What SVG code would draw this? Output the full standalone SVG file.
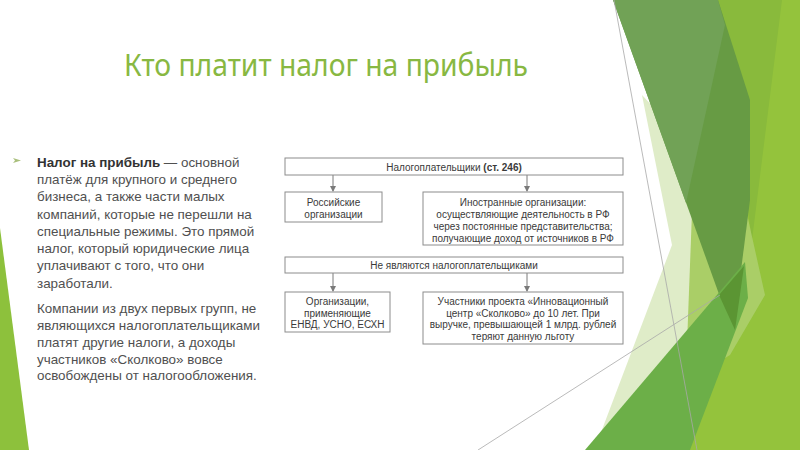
<svg xmlns="http://www.w3.org/2000/svg" width="800" height="450" viewBox="0 0 800 450">
<defs>
<style>
.body{font-family:"Liberation Sans",Arial,sans-serif;font-size:13.4px;fill:#505050}
.box{fill:#fff;stroke:#8c8c8c;stroke-width:1}
.bt{font-family:"Liberation Sans",Arial,sans-serif;font-size:10px;fill:#3a3a3a;text-anchor:middle}
.conn{stroke:#7a7a7a;stroke-width:1;fill:none;marker-end:url(#ah)}
.gl{stroke:#a8a8a8;stroke-width:0.8;fill:none}
</style>
<marker id="ah" markerWidth="6" markerHeight="6" refX="5" refY="3" orient="auto" markerUnits="userSpaceOnUse"><path d="M0,0 L6,3 L0,6 Z" fill="#7a7a7a"/></marker>
</defs>
<rect width="800" height="450" fill="#fff"/>
<g id="decoration">
<polygon points="0,228 0,450 29,450" fill="#8dc13c"/>
<polygon points="700,0 800,0 800,450 683,450" fill="#94c33c"/>
<polygon points="718,0 782,0 752,240" fill="#89ba3c"/>
<polygon points="642,95 745,205 765,295 730,355 600,435 672,245" fill="#bfd991" fill-opacity="0.5"/>
<polygon points="613,0 718,0 750,100 750,200 733,333" fill="#679b44"/>
<polygon points="613,0 718,0 725,25 686,203" fill="#71a256"/>
<polygon points="585,450 745,262 748,298 690,450" fill="#6caf48"/>
<polygon points="719,295 744,266 735,330" fill="#5b9533"/>
<line class="gl" x1="614" y1="0" x2="697" y2="450"/>
<line class="gl" x1="478" y1="450" x2="720" y2="295"/>
</g>
<g id="title">
<text x="124" y="76" font-family="'Noto Sans','DejaVu Sans',sans-serif" font-size="30" fill="#88b842" textLength="404" lengthAdjust="spacingAndGlyphs">Кто платит налог на прибыль</text>
</g>
<g id="body-text">
<polygon points="13,158 21,160.5 13,163 15,160.5" fill="#a9bf7c"/>
<text class="body" x="37" y="167"><tspan font-weight="bold" fill="#333">Налог на прибыль</tspan> — основной</text>
<text class="body" x="37" y="184">платёж для крупного и среднего</text>
<text class="body" x="37" y="201">бизнеса, а также части малых</text>
<text class="body" x="37" y="219">компаний, которые не перешли на</text>
<text class="body" x="37" y="236">специальные режимы. Это прямой</text>
<text class="body" x="37" y="253">налог, который юридические лица</text>
<text class="body" x="37" y="270">уплачивают с того, что они</text>
<text class="body" x="37" y="288">заработали.</text>
<text class="body" x="37" y="313">Компании из двух первых групп, не</text>
<text class="body" x="37" y="330">являющихся налогоплательщиками</text>
<text class="body" x="37" y="347">платят другие налоги, а доходы</text>
<text class="body" x="37" y="364">участников «Сколково» вовсе</text>
<text class="body" x="37" y="380">освобождены от налогообложения.</text>
</g>
<g id="connectors">
<line class="conn" x1="333" y1="175" x2="333" y2="191"/>
<line class="conn" x1="527" y1="175" x2="527" y2="191"/>
<line class="conn" x1="333" y1="273" x2="333" y2="291"/>
<line class="conn" x1="527" y1="273" x2="527" y2="291"/>
</g>
<g id="n-payers">
<rect class="box" x="285" y="158" width="338" height="17"/>
<text class="bt" x="454" y="170.5">Налогоплательщики <tspan font-weight="bold">(ст. 246)</tspan></text>
</g>
<g id="n-russian">
<rect class="box" x="285" y="192" width="97" height="30"/>
<text class="bt" x="333.5" y="206">Российские</text>
<text class="bt" x="333.5" y="218">организации</text>
</g>
<g id="n-foreign">
<rect class="box" x="423" y="192" width="200" height="53"/>
<text class="bt" x="523" y="206">Иностранные организации:</text>
<text class="bt" x="523" y="218">осуществляющие деятельность в РФ</text>
<text class="bt" x="523" y="230">через постоянные представительства;</text>
<text class="bt" x="523" y="242">получающие доход от источников в РФ</text>
</g>
<g id="n-nonpayers">
<rect class="box" x="285" y="257" width="338" height="16"/>
<text class="bt" x="454" y="268.5">Не являются налогоплательщиками</text>
</g>
<g id="n-special">
<rect class="box" x="285" y="292" width="105" height="40"/>
<text class="bt" x="337.5" y="305">Организации,</text>
<text class="bt" x="337.5" y="316.5">применяющие</text>
<text class="bt" x="337.5" y="328">ЕНВД, УСНО, ЕСХН</text>
</g>
<g id="n-skolkovo">
<rect class="box" x="423" y="292" width="200" height="52"/>
<text class="bt" x="523" y="305">Участники проекта «Инновационный</text>
<text class="bt" x="523" y="316.5">центр «Сколково» до 10 лет. При</text>
<text class="bt" x="523" y="328">выручке, превышающей 1 млрд. рублей</text>
<text class="bt" x="523" y="340">теряют данную льготу</text>
</g>
</svg>
